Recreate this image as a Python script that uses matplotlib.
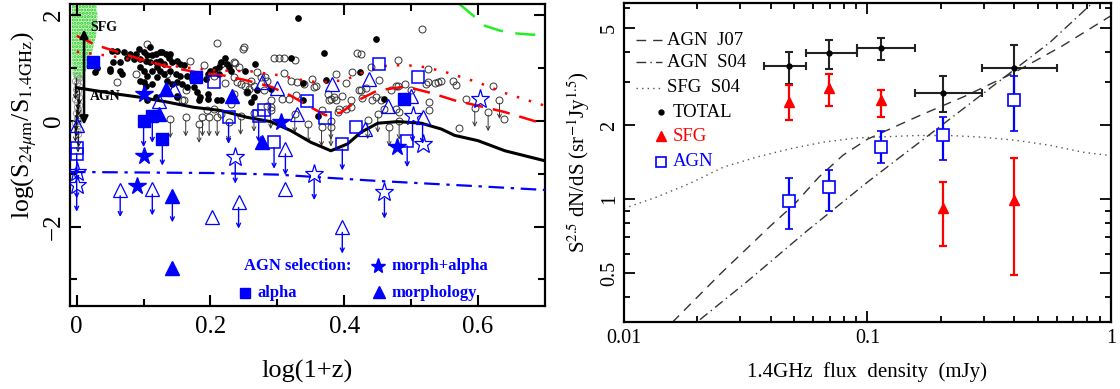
import numpy as np
import matplotlib
matplotlib.use('Agg')
import matplotlib.pyplot as plt
from matplotlib.ticker import FixedLocator, FixedFormatter, NullFormatter, LogLocator

plt.rcParams['font.family'] = ['Liberation Serif', 'DejaVu Serif']
plt.rcParams['mathtext.fontset'] = 'stix'
plt.rcParams['hatch.linewidth'] = 1.5

# ---------------- left panel data: log(1+z) vs log(S24/S1.4) ----------------
blk_x = [0.03, 0.028, 0.05, 0.053, 0.06, 0.07, 0.08, 0.088, 0.093, 0.1, 0.105, 0.113, 0.118, 0.125,
         0.133, 0.14, 0.138, 0.075, 0.085, 0.095, 0.103, 0.11, 0.118, 0.125, 0.13, 0.143, 0.15, 0.155,
         0.16, 0.065, 0.055, 0.05, 0.065, 0.068, 0.095, 0.1, 0.105, 0.113, 0.12, 0.125, 0.13, 0.14,
         0.148, 0.155, 0.165, 0.173, 0.095, 0.1, 0.103, 0.113, 0.12, 0.135, 0.143, 0.15, 0.158, 0.165,
         0.175, 0.183, 0.11, 0.128, 0.15, 0.18, 0.105, 0.118, 0.15, 0.185, 0.197, 0.215, 0.265, 0.255,
         0.18, 0.193, 0.197, 0.2, 0.207, 0.212, 0.215, 0.222, 0.225, 0.227, 0.23, 0.212, 0.267, 0.252,
         0.32, 0.183, 0.197, 0.21, 0.26, 0.27, 0.29, 0.331, 0.447, 0.37, 0.338, 0.373, 0.424, 0.46,
         0.338, 0.36]
blk_y = [1.0, 0.91, 0.94, 1.32, 1.31, 1.29, 1.26, 1.26, 1.35, 1.29, 1.23, 1.23, 1.26, 1.29,
         1.26, 1.26, 1.19, 1.19, 1.16, 1.16, 1.13, 1.10, 1.10, 1.13, 1.07, 1.10, 1.13, 1.07,
         1.04, 1.10, 1.10, 0.98, 0.94, 0.88, 1.01, 0.94, 0.85, 0.94, 1.01, 0.94, 0.88, 0.94,
         0.88, 0.85, 0.85, 0.79, 0.75, 0.72, 0.66, 0.69, 0.82, 0.75, 0.69, 0.72, 0.69, 0.63,
         0.63, 0.82, 1.38, 1.29, 0.47, 0.53, 0.38, 0.44, 0.44, 0.44, 0.50, 0.38, 0.44, 0.53,
         0.82, 0.79, 0.88, 0.94, 0.98, 1.01, 1.10, 1.19, 1.07, 1.01, 0.94, 0.88, 1.07, 0.94,
         1.19, 0.38, 0.41, 0.38, 0.35, 0.57, 0.60, 1.93, 1.54, 1.28, 0.71, 0.77, 0.92, 0.40,
         0.38, 0.09]

opn_x = [0.21, 0.235, 0.25, 0.088, 0.06, 0.105, 0.158, 0.163, 0.17, 0.175, 0.135, 0.19, 0.215,
         0.235, 0.245, 0.26, 0.265, 0.275, 0.285, 0.28, 0.29, 0.235, 0.23, 0.195, 0.205, 0.215,
         0.516, 0.419, 0.425, 0.481, 0.295, 0.302, 0.31, 0.326, 0.412, 0.44, 0.452, 0.48, 0.49,
         0.499, 0.525, 0.535, 0.54, 0.545, 0.562, 0.567, 0.582, 0.622, 0.638, 0.571, 0.527, 0.387,
         0.397, 0.375, 0.38, 0.355, 0.352, 0.32, 0.31, 0.317, 0.328, 0.41, 0.392, 0.422, 0.432,
         0.455, 0.459, 0.426, 0.525, 0.527, 0.249, 0.236, 0.242, 0.27, 0.282, 0.205, 0.222, 0.24,
         0.252, 0.257, 0.255, 0.29, 0.285, 0.307, 0.33, 0.34, 0.357, 0.402, 0.425, 0.47, 0.477,
         0.522, 0.385, 0.387, 0.377, 0.41, 0.447, 0.442, 0.477, 0.482, 0.402, 0.39, 0.367, 0.16]
opn_y = [1.46, 1.10, 1.38, 0.88, 0.72, 1.45, 0.38, 0.57, 1.13, 0.79, 0.88, 1.04, 1.07,
         0.82, 0.69, 0.75, 0.66, 0.82, 0.75, 0.57, 0.25, 0.50, 0.32, 0.19, 0.22, 0.13,
         1.72, 1.28, 1.26, 1.15, 1.18, 1.18, 1.18, 1.15, 0.91, 1.01, 0.77, 0.65, 0.69,
         0.58, 0.72, 0.70, 0.73, 0.75, 0.75, 0.67, 0.41, 0.66, 0.03, -0.14, 0.35, 0.87,
         0.47, 0.50, 0.41, 0.63, 0.79, 0.75, 0.89, 0.41, 0.48, 0.25, 0.22, 0.58, 0.62,
         0.38, 0.22, 0.43, 0.98, 0.19, 1.36, 1.09, 1.01, 0.91, 0.82, 0.85, 0.70, 0.72,
         0.66, 0.60, 0.53, 0.38, 0.28, 0.41, 0.72, 0.69, 0.66, 0.70, 0.57, 0.57, 0.66,
         0.69, 0.44, 0.38, 0.38, 0.38, 0.45, 0.38, 0.22, 0.16, 0.22, 0.16, 0.19, 0.38]

lim_x = [0.14, 0.163, 0.183, 0.188, 0.198, 0.21, 0.227, 0.245, 0.265, 0.29, 0.326, 0.346, 0.366,
         0.38, 0.38, 0.435, 0.45, 0.467, 0.482, 0.595, 0.615, 0.632]
lim_y = [0.03, 0.06, -0.06, 0.06, 0.06, 0.06, -0.03, 0.09, 0.15, 0.20, 0.13, -0.06, -0.13,
         0.0, -0.13, 0.01, 0.13, -0.13, 0.0, 0.24, 0.16, 0.39]

# local sources at z~0 (grey column)
loc_x = [0.0, 0.003, -0.002, 0.001, 0.004, -0.001, 0.002, 0.0, 0.003, -0.002, 0.001, 0.004,
         0.0, 0.002, -0.001, 0.003, 0.0, 0.002, -0.002, 0.001, 0.003, 0.0, 0.002]
loc_y = [0.85, 0.8, 0.75, 0.7, 0.65, 0.6, 0.55, 0.5, 0.45, 0.4, 0.35, 0.3,
         0.25, 0.2, 0.15, 0.1, 0.05, 0.0, -0.05, -0.1, -0.15, -0.2, -0.25]

# outline of the green SFG template cloud
cloud_x = [-0.006, 0.0, 0.006, 0.014, 0.022, 0.029, 0.031, 0.028, -0.007, -0.007]
cloud_y = [0.85, 0.72, 0.74, 0.95, 1.25, 1.6, 2.0, 2.3, 2.3, 1.4]

# blue AGN selections (value, upper-limit flag)
osq_x = [0.0, 0.0, 0.227, 0.205, 0.272, 0.28, 0.295, 0.452, 0.51, 0.344, 0.371, 0.418, 0.397, 0.494]
osq_y = [-0.52, -0.64, 0.06, 0.72, 0.09, 0.2, -0.41, 1.06, 0.83, 0.36, 0.04, -0.12, -0.44, -0.38]
osq_lim = [1, 1, 1, 0, 1, 0, 1, 0, 0, 0, 0, 0, 1, 1]
fsq_x = [0.025, 0.1, 0.113, 0.128, 0.178, 0.489]
fsq_y = [1.1, 0.0, 0.08, -0.35, 0.83, 0.41]
fsq_lim = [0, 1, 1, 1, 0, 0]
fst_x = [0.101, 0.1, 0.09, 0.305, 0.479]
fst_y = [0.5, -0.66, -1.23, -0.03, -0.49]
ftr_x = [0.133, 0.232, 0.277, 0.123, 0.143, 0.143]
ftr_y = [0.59, 0.47, -0.41, 0.13, -1.42, -2.78]
ftr_lim = [0, 0, 0, 0, 1, 0]
otr_x = [0.0, 0.145, 0.123, 0.277, 0.3, 0.33, 0.382, 0.437, 0.465, 0.5, 0.517, 0.431, 0.312,
         0.312, 0.065, 0.113, 0.203, 0.242, 0.397]
otr_y = [-0.08, 0.6, 0.37, 0.72, 0.62, 0.13, 0.69, 0.79, 0.27, 0.47, 0.06, -0.16, -0.53,
         -1.29, -1.32, -1.29, -1.82, -1.54, -2.01]
otr_lim = [0, 0, 0, 0, 0, 0, 0, 0, 0, 0, 1, 0, 1, 0, 1, 1, 0, 1, 1]
ost_x = [0.0, 0.0, 0.237, 0.355, 0.46, 0.517, 0.502, 0.603]
ost_y = [-0.97, -1.22, -0.69, -1.0, -1.35, -0.44, 0.09, 0.40]
ost_lim = [1, 1, 1, 1, 1, 0, 1, 0]

# model tracks
sfg_dash_x = [0.0, 0.03, 0.09, 0.135, 0.18, 0.22, 0.25, 0.29, 0.32, 0.35, 0.372, 0.395, 0.42,
              0.45, 0.485, 0.505, 0.53, 0.565, 0.6, 0.64, 0.7]
sfg_dash_y = [1.6, 1.42, 1.18, 1.02, 0.91, 0.85, 0.77, 0.64, 0.47, 0.25, 0.1, 0.15, 0.38,
              0.57, 0.63, 0.6, 0.52, 0.38, 0.28, 0.16, -0.07]
sfg_dot_x = [0.0, 0.05, 0.1, 0.15, 0.2, 0.26, 0.3, 0.33, 0.36, 0.4, 0.43, 0.46, 0.49, 0.52,
             0.55, 0.6, 0.64, 0.7]
sfg_dot_y = [1.3, 1.22, 1.12, 1.02, 0.95, 0.93, 0.86, 0.78, 0.72, 0.76, 0.92, 1.03, 1.05, 1.01,
             0.92, 0.72, 0.52, 0.28]
agn_x = [0.0, 0.025, 0.06, 0.095, 0.135, 0.175, 0.215, 0.255, 0.29, 0.32, 0.35, 0.38, 0.405,
         0.425, 0.45, 0.48, 0.515, 0.545, 0.565, 0.6, 0.64, 0.7]
agn_y = [0.62, 0.57, 0.5, 0.44, 0.35, 0.25, 0.19, 0.06, -0.02, -0.19, -0.41, -0.57, -0.44,
         -0.22, -0.05, -0.02, -0.05, -0.16, -0.28, -0.38, -0.57, -0.76]
agn2_x = [-0.01, 0.2, 0.3, 0.45, 0.6, 0.7]
agn2_y = [-0.97, -0.99, -1.02, -1.14, -1.24, -1.31]
grn_x = [0.572, 0.59, 0.61, 0.632, 0.652, 0.682, 0.7]
grn_y = [2.2, 2.01, 1.79, 1.70, 1.65, 1.62, 1.64]

# ---------------- right panel data: Euclidean-normalised counts ----------------
flux = [0.0477, 0.0695, 0.1135, 0.204, 0.40]
flux_lo = [0.0376, 0.0558, 0.0906, 0.157, 0.295]
flux_hi = [0.0558, 0.0906, 0.157, 0.295, 0.60]
tot = [3.5, 3.96, 4.15, 2.72, 3.44]
tot_lo = [2.96, 3.41, 3.71, 2.26, 2.6]
tot_hi = [4.0, 4.47, 4.56, 3.19, 4.27]
sfg = [2.5, 2.85, 2.53, 0.92, 0.99]
sfg_lo = [2.1, 2.41, 2.17, 0.644, 0.49]
sfg_hi = [2.93, 3.25, 2.8, 1.18, 1.48]
agn = [0.98, 1.12, 1.64, 1.82, 2.55]
agn_lo = [0.76, 0.90, 1.40, 1.45, 1.89]
agn_hi = [1.22, 1.32, 1.89, 2.17, 3.19]

# models (log10 flux, log10 counts)
j07_lx = [-1.85, -1.6, -1.4, -1.3, -1.2, -1.1, -1.0, -0.9, -0.8, -0.6, -0.4, -0.2, 0.0]
j07_ly = [-0.55, -0.3, -0.11, -0.02, 0.09, 0.18, 0.245, 0.29, 0.335, 0.42, 0.515, 0.625, 0.748]
s04a_lx = [-1.75, -1.5, -1.25, -1.0, -0.75, -0.5, -0.25, 0.0]
s04a_ly = [-0.54, -0.34, -0.13, 0.07, 0.26, 0.45, 0.64, 0.87]
s04s_lx = [-2.0, -1.866, -1.729, -1.592, -1.455, -1.318, -1.181, -1.044, -0.798, -0.66, -0.526,
           -0.387, -0.25, -0.115, 0.0]
s04s_ly = [-0.037, 0.009, 0.065, 0.131, 0.172, 0.206, 0.233, 0.25, 0.26, 0.26, 0.253,
           0.24, 0.22, 0.192, 0.178]

fig = plt.figure(figsize=(11.2, 3.89), dpi=100)
ax1 = fig.add_axes([0.0625, 0.2134, 0.4241, 0.7763])
ax2 = fig.add_axes([0.5571, 0.1722, 0.4348, 0.8201])

blue = '#0000ff'


def down_arrows(ax, xs, ys, flags, start, length, color, lw=0.8):
    for x, y, f in zip(xs, ys, flags):
        if f:
            ax.annotate('', xy=(x, y - length), xytext=(x, y - start),
                        arrowprops=dict(arrowstyle='->', color=color, lw=lw,
                                        shrinkA=0, shrinkB=0, mutation_scale=7))


# ---- left panel
ax1.fill(cloud_x, cloud_y, facecolor='#d2f7cb', edgecolor='#22cc22', hatch='.....', lw=0, zorder=1)
ax1.plot(grn_x, grn_y, color='#22ee22', lw=1.8, dashes=(8, 5), zorder=2)
ax1.plot(sfg_dash_x, sfg_dash_y, color='red', lw=1.8, dashes=(7, 4), zorder=4)
ax1.plot(sfg_dot_x, sfg_dot_y, color='red', lw=1.8, dashes=(1, 4), zorder=4)
ax1.plot(agn_x, agn_y, color='black', lw=2.2, zorder=4)
ax1.plot(agn2_x, agn2_y, color=blue, lw=1.6, dashes=(7, 3, 1.5, 3), zorder=4)

ax1.plot(loc_x, loc_y, ls='none', marker='o', ms=4.5, mfc='none', mec='#999999', mew=0.7, zorder=3)
down_arrows(ax1, loc_x[::2], loc_y[::2], [1] * 12, 0.05, 0.35, 'black', 0.6)
ax1.plot(opn_x, opn_y, ls='none', marker='o', ms=5, mfc='none', mec='#333333', mew=0.7, zorder=3)
ax1.plot(lim_x, lim_y, ls='none', marker='o', ms=5, mfc='none', mec='#333333', mew=0.7, zorder=3)
down_arrows(ax1, lim_x, lim_y, [1] * len(lim_x), 0.06, 0.36, '#333333', 0.7)
ax1.plot(blk_x, blk_y, ls='none', marker='o', ms=3.8, mfc='black', mec='black', zorder=3)

ax1.plot(osq_x, osq_y, ls='none', marker='s', ms=9, mfc='none', mec=blue, mew=1.1, zorder=5)
down_arrows(ax1, osq_x, osq_y, osq_lim, 0.1, 0.5, blue, 1.0)
ax1.plot(fsq_x, fsq_y, ls='none', marker='s', ms=9, mfc=blue, mec=blue, zorder=5)
down_arrows(ax1, fsq_x, fsq_y, fsq_lim, 0.1, 0.5, blue, 1.0)
ax1.plot(fst_x, fst_y, ls='none', marker='*', ms=13, mfc=blue, mec=blue, zorder=5)
ax1.plot(ftr_x, ftr_y, ls='none', marker='^', ms=10, mfc=blue, mec=blue, zorder=5)
down_arrows(ax1, ftr_x, ftr_y, ftr_lim, 0.1, 0.5, blue, 1.0)
ax1.plot(otr_x, otr_y, ls='none', marker='^', ms=10, mfc='none', mec=blue, mew=0.9, zorder=5)
down_arrows(ax1, otr_x, otr_y, otr_lim, 0.1, 0.5, blue, 1.0)
ax1.plot(ost_x, ost_y, ls='none', marker='*', ms=14, mfc='none', mec=blue, mew=0.9, zorder=5)
down_arrows(ax1, ost_x, ost_y, ost_lim, 0.12, 0.5, blue, 1.0)

ax1.annotate('', xy=(0.011, 1.72), xytext=(0.011, -0.08),
             arrowprops=dict(arrowstyle='<|-|>', color='black', lw=1.8, mutation_scale=12,
                             shrinkA=0, shrinkB=0), zorder=6)
ax1.text(0.02, 1.76, 'SFG', fontsize=10, fontweight='bold', va='center', zorder=6)
ax1.text(0.02, 0.45, 'AGN', fontsize=10, fontweight='bold', va='center', zorder=6)

ax1.text(0.25, -2.74, 'AGN selection:', color=blue, fontsize=12, fontweight='bold', va='center')
ax1.plot([0.45], [-2.75], marker='*', ms=11, color=blue, ls='none')
ax1.text(0.47, -2.74, 'morph+alpha', color=blue, fontsize=12, fontweight='bold', va='center')
ax1.plot([0.251], [-3.26], marker='s', ms=7, color=blue, ls='none')
ax1.text(0.27, -3.25, 'alpha', color=blue, fontsize=12, fontweight='bold', va='center')
ax1.plot([0.452], [-3.24], marker='^', ms=8, color=blue, ls='none')
ax1.text(0.47, -3.25, 'morphology', color=blue, fontsize=12, fontweight='bold', va='center')

ax1.set_xlim(-0.01, 0.7)
ax1.set_ylim(-3.5, 2.2)
ax1.xaxis.set_major_locator(FixedLocator([0, 0.2, 0.4, 0.6]))
ax1.xaxis.set_major_formatter(FixedFormatter(['0', '0.2', '0.4', '0.6']))
ax1.xaxis.set_minor_locator(FixedLocator([0.1, 0.3, 0.5]))
ax1.yaxis.set_major_locator(FixedLocator([-2, 0, 2]))
ax1.yaxis.set_major_formatter(FixedFormatter(['\u22122', '0', '2']))
ax1.yaxis.set_minor_locator(FixedLocator([-3, -1, 1]))
ax1.tick_params(which='both', direction='in', top=True, right=True, width=1.5, labelsize=18)
ax1.tick_params(which='major', length=8)
ax1.tick_params(which='minor', length=5)
ax1.tick_params(axis='x', pad=7)
for lab in ax1.get_yticklabels():
    lab.set_rotation(90)
    lab.set_va('center')
for s in ax1.spines.values():
    s.set_linewidth(1.6)
ax1.set_xlabel('log(1+z)', fontsize=19, labelpad=16)
ax1.set_ylabel(r'log(S$_{24\mu\rm m}$/S$_{1.4\rm GHz}$)', fontsize=18.5)
ax1.yaxis.set_label_coords(-0.066, 0.6)

# ---- right panel
ax2.plot(10 ** np.array(j07_lx), 10 ** np.array(j07_ly), color='#333333', lw=1, dashes=(7, 5))
ax2.plot(10 ** np.array(s04a_lx), 10 ** np.array(s04a_ly), color='#333333', lw=1, dashes=(7, 3, 1, 3))
ax2.plot(10 ** np.array(s04s_lx), 10 ** np.array(s04s_ly), color='#555555', lw=1, dashes=(1, 3))

tot_a = np.array(tot)
fx = np.array(flux)
ax2.errorbar(flux, tot, yerr=[tot_a - np.array(tot_lo), np.array(tot_hi) - tot_a],
             xerr=[fx - np.array(flux_lo), np.array(flux_hi) - fx], fmt='o', ms=3.5,
             color='black', ecolor='#222222', elinewidth=1.5, capsize=3, capthick=1.5)
sfg_a = np.array(sfg)
ax2.errorbar(flux, sfg, yerr=[sfg_a - np.array(sfg_lo), np.array(sfg_hi) - sfg_a], fmt='^', ms=7,
             color='red', elinewidth=1.6, capsize=3, capthick=1.6)
agn_a = np.array(agn)
ax2.errorbar(flux, agn, yerr=[agn_a - np.array(agn_lo), np.array(agn_hi) - agn_a], fmt='s', ms=8,
             mfc='white', mec=blue, mew=1.2, color=blue, elinewidth=1.6, capsize=3, capthick=1.6)

ax2.set_xscale('log')
ax2.set_yscale('log')
ax2.set_xlim(0.01, 1)
ax2.set_ylim(10 ** -0.5, 10 ** 0.8)

tr = ax2.transAxes
ax2.plot([0.025, 0.078], [0.884, 0.884], transform=tr, color='#333333', lw=1, dashes=(7, 5))
ax2.plot([0.025, 0.078], [0.815, 0.815], transform=tr, color='#333333', lw=1, dashes=(7, 3, 1, 3))
ax2.plot([0.025, 0.078], [0.734, 0.734], transform=tr, color='#555555', lw=1, dashes=(1, 3))
ax2.plot([0.076], [0.658], transform=tr, marker='o', ms=3.5, color='black')
ax2.plot([0.076], [0.583], transform=tr, marker='^', ms=7, color='red')
ax2.plot([0.076], [0.503], transform=tr, marker='s', ms=7, mfc='none', mec=blue, mew=1.2)
leg_txt = [('AGN  J07', 'black', 0.884), ('AGN  S04', 'black', 0.815), ('SFG  S04', 'black', 0.734),
           ('TOTAL', 'black', 0.658), ('SFG', 'red', 0.583), ('AGN', blue, 0.503)]
for i, (t, c, y) in enumerate(leg_txt):
    ax2.text(0.088 if i < 3 else 0.1, y, t, transform=tr, color=c, fontsize=13.5, va='center')

ax2.yaxis.set_major_locator(FixedLocator([0.5, 1, 2, 5]))
ax2.yaxis.set_major_formatter(FixedFormatter(['0.5', '1', '2', '5']))
ax2.yaxis.set_minor_locator(FixedLocator([0.4, 0.6, 0.7, 0.8, 0.9, 3, 4, 6]))
ax2.yaxis.set_minor_formatter(NullFormatter())
ax2.xaxis.set_major_locator(FixedLocator([0.01, 0.1, 1]))
ax2.xaxis.set_major_formatter(FixedFormatter(['0.01', '0.1', '1']))
ax2.xaxis.set_minor_locator(LogLocator(base=10, subs=np.arange(2, 10)))
ax2.xaxis.set_minor_formatter(NullFormatter())
ax2.tick_params(which='both', direction='in', top=True, right=True, width=1.3, labelsize=14.5)
ax2.tick_params(which='major', length=8)
ax2.tick_params(which='minor', length=4.5)
ax2.tick_params(axis='x', pad=5)
for lab in ax2.get_yticklabels():
    lab.set_rotation(90)
    lab.set_va('center')
for s in ax2.spines.values():
    s.set_linewidth(1.6)
ax2.set_xlabel('1.4GHz  flux  density  (mJy)', fontsize=15, labelpad=10)
ax2.set_ylabel(r'S$^{2.5}$ dN/dS (sr$^{-1}$Jy$^{1.5}$)', fontsize=15, labelpad=6)

fig.savefig('out.png', dpi=100)
